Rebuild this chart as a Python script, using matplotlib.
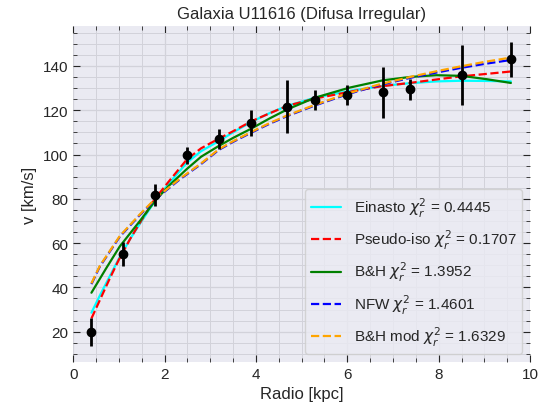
import numpy as np
import matplotlib
matplotlib.use("Agg")
import matplotlib.pyplot as plt
from matplotlib.ticker import MultipleLocator

plt.style.use("seaborn-v0_8-darkgrid")
plt.rcParams.update({
    "font.family": ["Liberation Sans", "DejaVu Sans"],
    "font.size": 11,
    "xtick.direction": "in",
    "ytick.direction": "in",
    "xtick.top": True,
    "ytick.right": True,
    "xtick.color": "#262626",
    "ytick.color": "#262626",
})

# ── observed rotation curve ─────────────────────────────────────────────
r_obs = [0.40, 1.08, 1.79, 2.49, 3.19, 3.90, 4.69, 5.30, 6.00, 6.78, 7.38, 8.50, 9.58]
v_obs = [20.0, 54.9, 81.6, 99.6, 106.9, 114.1, 121.5, 124.6, 126.8, 128.0, 129.5, 135.9, 143.0]
v_err = [6.3, 5.4, 5.0, 4.0, 4.5, 5.8, 12.0, 4.7, 4.4, 11.7, 4.7, 13.6, 8.0]

# ── fitted model curves ─────────────────────────────────────────────────
r_ein = [0.40, 0.60, 0.80, 1.00, 1.25, 1.50, 1.79, 2.10, 2.49, 2.80, 3.19, 3.50, 3.90,
         4.30, 4.69, 5.30, 6.05, 6.78, 7.37, 7.95, 8.50, 9.05, 9.58]
v_ein = [28.6, 37.0, 45.0, 53.0, 62.0, 70.0, 79.0, 87.0, 96.3, 101.5, 106.1, 110.0, 114.7,
         118.7, 122.0, 125.7, 128.7, 131.0, 132.2, 133.0, 133.3, 133.2, 133.0]

r_iso = [0.40, 0.60, 0.80, 1.00, 1.25, 1.50, 1.79, 2.10, 2.49, 2.80, 3.19, 3.50, 3.90,
         4.30, 4.69, 5.30, 6.05, 6.71, 7.44, 8.00, 8.46, 9.00, 9.59]
v_iso = [26.0, 35.0, 44.0, 52.5, 62.0, 70.5, 80.0, 88.0, 97.8, 102.8, 107.2, 110.5, 115.0,
         118.6, 122.0, 125.3, 128.3, 130.7, 132.5, 134.0, 135.2, 136.3, 137.5]

r_bh = [0.40, 0.73, 1.02, 1.46, 1.79, 2.10, 2.49, 2.80, 3.19, 3.50, 3.90, 4.30, 4.69,
        5.30, 6.05, 6.78, 7.37, 7.95, 8.50, 9.05, 9.58]
v_bh = [37.6, 48.9, 58.5, 70.0, 79.0, 86.0, 93.5, 99.0, 103.9, 107.5, 111.7, 116.3, 120.4,
        125.7, 130.2, 133.5, 135.0, 135.8, 135.5, 134.0, 132.3]

r_nfw = [0.40, 0.58, 1.02, 1.46, 1.82, 2.33, 2.80, 3.19, 3.50, 3.90, 4.30, 4.69, 5.30,
         6.00, 6.71, 7.44, 8.00, 8.46, 9.00, 9.59]
v_nfw = [41.5, 49.3, 62.9, 72.7, 80.2, 88.7, 95.7, 102.1, 105.7, 109.9, 113.9, 117.4, 122.2,
         127.2, 131.4, 134.9, 137.2, 139.0, 140.9, 142.7]

r_bhm = [0.40, 0.58, 1.02, 1.46, 1.82, 2.33, 2.80, 3.19, 3.50, 3.90, 4.30, 4.69, 5.30,
         6.00, 6.71, 7.44, 8.00, 8.46, 9.00, 9.59]
v_bhm = [41.8, 49.6, 63.2, 73.0, 80.5, 89.0, 96.0, 102.4, 106.0, 110.2, 114.2, 117.7, 122.5,
         127.5, 131.7, 135.3, 137.8, 139.7, 141.8, 143.8]

chi = {"Einasto": 0.4445, "Pseudo-iso": 0.1707, "B&H": 1.3952, "NFW": 1.4601, "B&H mod": 1.6329}

fig = plt.figure(figsize=(5.42, 4.10), dpi=100)
ax = fig.add_axes([0.135, 0.115, 0.843, 0.818])

ax.errorbar(r_obs, v_obs, yerr=v_err, fmt="o", color="black", ms=6,
            elinewidth=2, capsize=0, zorder=6)

lw = 1.6
ax.plot(r_ein, v_ein, color="cyan", lw=lw, label=rf"Einasto $\chi_r^2$ = {chi['Einasto']}")
ax.plot(r_iso, v_iso, "--", color="red", lw=lw, label=rf"Pseudo-iso $\chi_r^2$ = {chi['Pseudo-iso']}")
ax.plot(r_bh, v_bh, color="green", lw=lw, label=rf"B&H $\chi_r^2$ = {chi['B&H']}")
ax.plot(r_nfw, v_nfw, "--", color="blue", lw=lw, label=rf"NFW $\chi_r^2$ = {chi['NFW']}")
ax.plot(r_bhm, v_bhm, "--", color="orange", lw=lw, label=rf"B&H mod $\chi_r^2$ = {chi['B&H mod']}")

ax.set_xlim(0, 10)
ax.set_ylim(6.4, 157.8)
ax.xaxis.set_major_locator(MultipleLocator(2))
ax.xaxis.set_minor_locator(MultipleLocator(0.5))
ax.yaxis.set_major_locator(MultipleLocator(20))
ax.yaxis.set_minor_locator(MultipleLocator(5))
ax.tick_params(which="major", length=5, width=0.8)
ax.tick_params(which="minor", length=3, width=0.6)
ax.grid(which="major", color="#d2d2da", lw=0.9)
ax.grid(which="minor", color="#d2d2da", lw=0.7)

ax.set_xlabel("Radio [kpc]", fontsize=12)
ax.set_ylabel("v [km/s]", fontsize=12)
ax.set_title("Galaxia U11616 (Difusa Irregular)", fontsize=12)
ax.legend(loc="lower right", fontsize=11, labelspacing=0.6, frameon=True)

fig.savefig("out.png", dpi=100)
